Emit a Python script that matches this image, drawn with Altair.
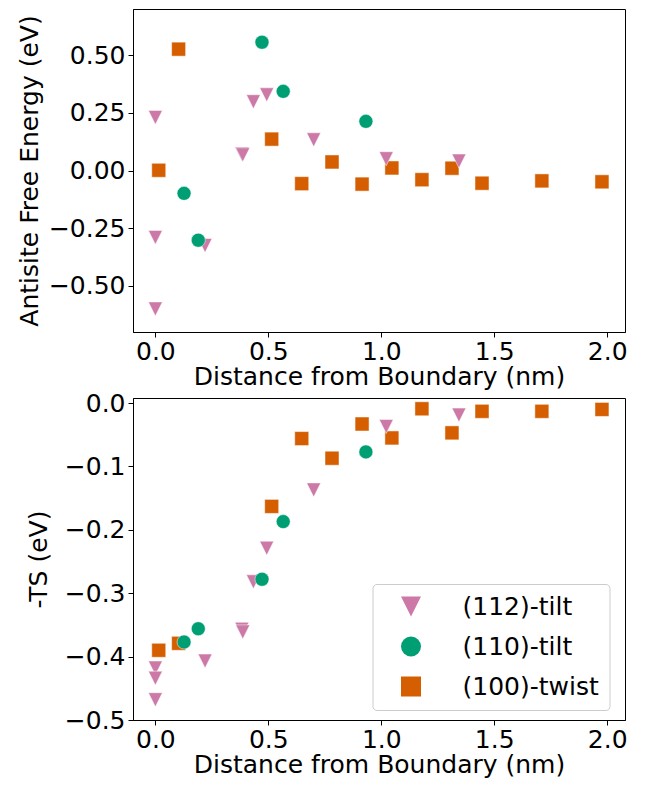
import altair as alt
import pandas as pd

# ---- data ----
series = ["(112)-tilt", "(110)-tilt", "(100)-twist"]
colors = ["#cc79a7", "#009e73", "#d55e00"]
shapes = ["M-1,-1L1,-1L0,1Z", "circle", "square"]

x_112 = [0.0, 0.0, 0.0, 0.22, 0.383, 0.387, 0.434, 0.493, 0.701, 1.022, 1.344]
free_112 = [0.23, -0.29, -0.60, -0.325, 0.071, 0.068, 0.298, 0.328, 0.133, 0.051, 0.041]
ts_112 = [-0.418, -0.434, -0.468, -0.407, -0.357, -0.361, -0.282, -0.229, -0.137, -0.037, -0.019]

x_110 = [0.127, 0.19, 0.472, 0.566, 0.932]
free_110 = [-0.099, -0.302, 0.556, 0.343, 0.213]
ts_110 = [-0.377, -0.356, -0.278, -0.187, -0.077]

x_100 = [0.015, 0.103, 0.515, 0.648, 0.782, 0.915, 1.047, 1.18, 1.313, 1.446, 1.711, 1.977]
free_100 = [0.001, 0.526, 0.136, -0.057, 0.037, -0.059, 0.011, -0.040, 0.010, -0.055, -0.045, -0.049]
ts_100 = [-0.390, -0.379, -0.163, -0.056, -0.087, -0.033, -0.055, -0.009, -0.047, -0.013, -0.013, -0.010]

x_ticks = [0, 0.5, 1.0, 1.5, 2.0]
top_ticks = [-0.5, -0.25, 0.0, 0.25, 0.5]
bot_ticks = [-0.5, -0.4, -0.3, -0.2, -0.1, 0.0]

rows = []
for name, xs, fs, ts in [
    ("(100)-twist", x_100, free_100, ts_100),
    ("(112)-tilt", x_112, free_112, ts_112),
    ("(110)-tilt", x_110, free_110, ts_110),
]:
    for x, f, t in zip(xs, fs, ts):
        rows.append({"series": name, "x": x, "free": f, "ts": t})
df = pd.DataFrame(rows)
df["order"] = range(len(df))

FONT = "DejaVu Sans"
W = 492

xenc = alt.X(
    "x:Q",
    scale=alt.Scale(domain=[-0.099, 2.079], nice=False, zero=False),
    axis=alt.Axis(values=x_ticks, format=".1f", title="Distance from Boundary (nm)",
                  labelFlush=False, labelPadding=2, titlePadding=0),
)

leg = alt.Legend(
    title=None, orient="none", legendX=239.5, legendY=186,
    labelFont=FONT, labelFontSize=25, labelColor="black",
    symbolSize=400, symbolStrokeWidth=0, symbolOpacity=1,
    symbolOffset=16, labelOffset=39, rowPadding=14, padding=10,
    strokeColor="#cccccc", fillColor="white", cornerRadius=4,
)

base_mark = dict(filled=True, size=196, opacity=1, stroke="white", strokeWidth=0.5)

top = alt.Chart(df).mark_point(**base_mark).encode(
    x=xenc,
    y=alt.Y("free:Q", scale=alt.Scale(domain=[-0.70, 0.70], nice=False, zero=False),
            axis=alt.Axis(values=top_ticks, format=".2f", title="Antisite Free Energy (eV)",
                          titlePadding=6)),
    color=alt.Color("series:N", scale=alt.Scale(domain=series, range=colors), legend=None),
    shape=alt.Shape("series:N", scale=alt.Scale(domain=series, range=shapes), legend=None),
    order="order:Q",
).properties(width=W, height=323)

bottom = alt.Chart(df).mark_point(**base_mark).encode(
    x=xenc,
    y=alt.Y("ts:Q", scale=alt.Scale(domain=[-0.5, 0.008], nice=False, zero=False),
            axis=alt.Axis(values=bot_ticks, format=".1f", title="-TS (eV)", titlePadding=13)),
    color=alt.Color("series:N", scale=alt.Scale(domain=series, range=colors), legend=leg),
    shape=alt.Shape("series:N", scale=alt.Scale(domain=series, range=shapes), legend=leg),
    order="order:Q",
).properties(width=W, height=322)

chart = (
    alt.vconcat(top, bottom, spacing=0)
    .resolve_scale(color="independent", shape="independent")
    .resolve_legend(color="independent", shape="independent")
    .properties(padding={"left": 8, "top": 0, "right": 5, "bottom": 0})
    .configure_axis(
        labelFont=FONT, labelFontSize=25, labelColor="black",
        titleFont=FONT, titleFontSize=25, titleFontWeight="normal", titleColor="black",
        tickColor="black", domainColor="black", tickSize=5, tickWidth=1, domainWidth=1,
        grid=False, labelPadding=3,
    )
    .configure_view(stroke="black", strokeWidth=1)
)

chart.save("out.html", embed_options={"renderer": "svg", "actions": False})
